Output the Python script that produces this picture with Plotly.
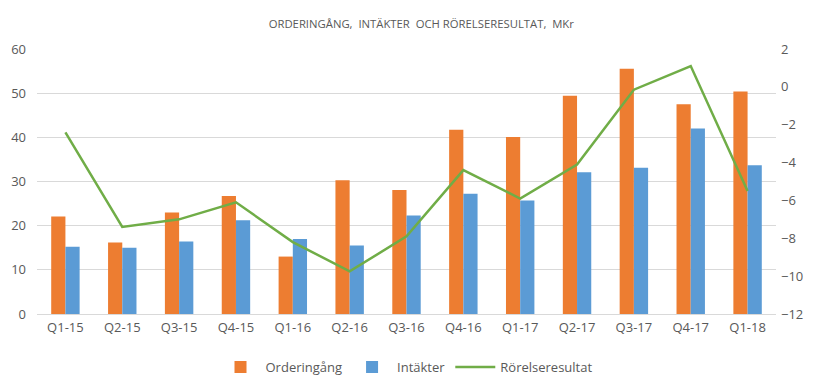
import plotly.graph_objects as go

categories = ["Q1-15", "Q2-15", "Q3-15", "Q4-15", "Q1-16", "Q2-16", "Q3-16",
              "Q4-16", "Q1-17", "Q2-17", "Q3-17", "Q4-17", "Q1-18"]
orderingang = [22.1, 16.2, 23.0, 26.7, 13.0, 30.3, 28.1, 41.7, 40.1, 49.4, 55.5, 47.5, 50.4]
intakter = [15.2, 15.0, 16.4, 21.2, 17.0, 15.5, 22.3, 27.2, 25.7, 32.1, 33.1, 42.0, 33.7]
rorelseresultat = [-2.4, -7.4, -7.0, -6.1, -8.2, -9.75, -7.9, -4.4, -5.9, -4.1, -0.15, 1.1, -5.5]

left_ticks = [0, 10, 20, 30, 40, 50, 60]
right_ticks = [-12, -10, -8, -6, -4, -2, 0, 2]

FONT = "Open Sans"
GREY = "#595959"

fig = go.Figure()
fig.add_trace(go.Bar(x=categories, y=orderingang, name="Orderingång",
                     marker=dict(color="#ed7d31", line=dict(width=0))))
fig.add_trace(go.Bar(x=categories, y=intakter, name="Intäkter",
                     marker=dict(color="#5b9bd5", line=dict(width=0))))
fig.add_trace(go.Scatter(x=categories, y=rorelseresultat, name="Rörelseresultat",
                         mode="lines", line=dict(color="#70ad47", width=2.5),
                         yaxis="y2"))

fig.update_layout(
    width=818, height=381,
    margin=dict(l=37, r=42, t=49, b=67, autoexpand=False),
    paper_bgcolor="white", plot_bgcolor="white",
    font=dict(family=FONT, color=GREY, size=13),
    title=dict(text="ORDERINGÅNG,  INTÄKTER  OCH RÖRELSERESULTAT,  MKr",
               x=0.52, xanchor="center", xref="paper",
               y=0.937, yanchor="middle", yref="container", automargin=False,
               font=dict(size=11.3, color=GREY, family=FONT)),
    barmode="group", bargap=0.5, bargroupgap=0,
    showlegend=True,
    legend=dict(orientation="h", x=0.5, xanchor="center", y=-0.2, yanchor="middle",
                font=dict(size=13, color=GREY), traceorder="normal",
                itemwidth=40),
    xaxis=dict(type="category", showgrid=False, showline=False, ticks="",
               automargin=False, ticklabelstandoff=4,
               tickfont=dict(size=13, color=GREY)),
    yaxis=dict(range=[0, 60], tickvals=left_ticks, showgrid=True,
               gridcolor="#d9d9d9", gridwidth=1, zeroline=True,
               zerolinecolor="#d9d9d9", zerolinewidth=1, showline=False,
               automargin=False,
               ticks="", ticklabelstandoff=10, tickfont=dict(size=13, color=GREY)),
    yaxis2=dict(range=[-12, 2], tickvals=right_ticks, overlaying="y",
                side="right", showgrid=False, zeroline=False, showline=False,
                automargin=False,
                ticks="", ticklabelstandoff=4, tickfont=dict(size=13, color=GREY)),
)

fig.write_html("out.html", config={"displayModeBar": False},
               post_script="document.body.style.margin='0';document.body.style.overflow='hidden';")
